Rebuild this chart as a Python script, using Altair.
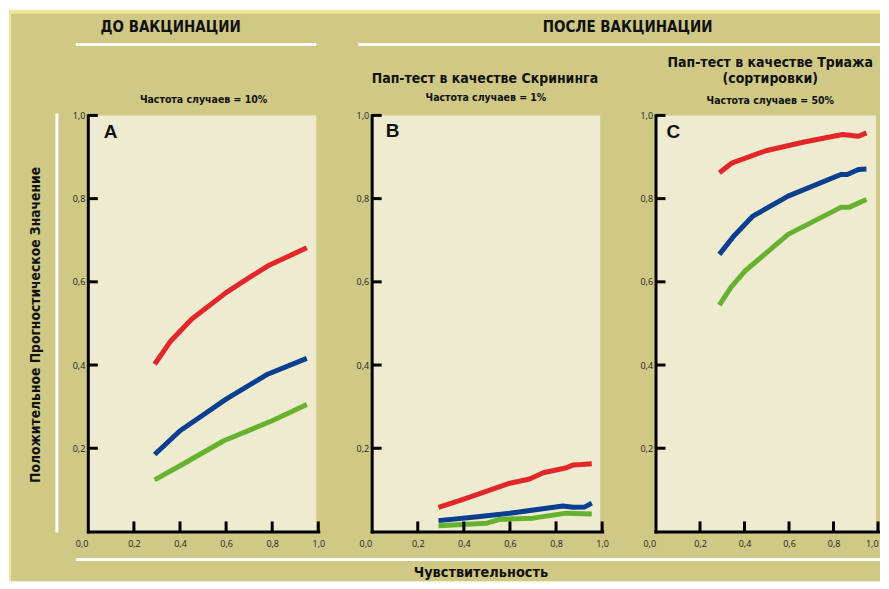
import altair as alt
import pandas as pd

# ---------------- data ----------------
X_TICKS = [0.0, 0.2, 0.4, 0.6, 0.8, 1.0]
Y_TICKS = [0.2, 0.4, 0.6, 0.8, 1.0]
TICK_MARKS_X = [0.2, 0.4, 0.6, 0.8, 1.0]
TICK_MARKS_Y = [0.2, 0.4, 0.6, 0.8, 1.0]

A_RED_X = [0.29, 0.36, 0.45, 0.60, 0.70, 0.78, 0.95]
A_RED_Y = [0.402, 0.458, 0.510, 0.574, 0.610, 0.638, 0.682]
A_BLUE_X = [0.29, 0.40, 0.50, 0.60, 0.78, 0.95]
A_BLUE_Y = [0.185, 0.242, 0.280, 0.318, 0.378, 0.416]
A_GREEN_X = [0.29, 0.40, 0.59, 0.80, 0.95]
A_GREEN_Y = [0.124, 0.158, 0.218, 0.266, 0.305]

B_RED_X = [0.29, 0.40, 0.50, 0.60, 0.685, 0.745, 0.845, 0.875, 0.91, 0.955]
B_RED_Y = [0.058, 0.078, 0.097, 0.116, 0.126, 0.141, 0.153, 0.160, 0.161, 0.163]
B_BLUE_X = [0.29, 0.45, 0.60, 0.83, 0.875, 0.925, 0.955]
B_BLUE_Y = [0.026, 0.035, 0.044, 0.061, 0.058, 0.059, 0.068]
B_GREEN_X = [0.29, 0.50, 0.555, 0.70, 0.845, 0.955]
B_GREEN_Y = [0.014, 0.020, 0.029, 0.032, 0.044, 0.042]

C_RED_X = [0.287, 0.345, 0.496, 0.668, 0.841, 0.912, 0.948]
C_RED_Y = [0.862, 0.886, 0.915, 0.936, 0.954, 0.950, 0.958]
C_BLUE_X = [0.287, 0.352, 0.438, 0.596, 0.833, 0.862, 0.912, 0.948]
C_BLUE_Y = [0.666, 0.710, 0.758, 0.806, 0.858, 0.858, 0.870, 0.871]
C_GREEN_X = [0.287, 0.338, 0.402, 0.596, 0.833, 0.869, 0.948]
C_GREEN_Y = [0.544, 0.586, 0.626, 0.714, 0.779, 0.779, 0.798]

HEADER_BEFORE = "ДО ВАКЦИНАЦИИ"
HEADER_AFTER = "ПОСЛЕ ВАКЦИНАЦИИ"
X_TITLE = "Чувствительность"
Y_TITLE = "Положительное Прогностическое Значение"
A_SUB = "Частота случаев = 10%"
B_TITLE = "Пап-тест в качестве Скрининга"
B_SUB = "Частота случаев = 1%"
C_TITLE_1 = "Пап-тест в качестве Триажа"
C_TITLE_2 = "(сортировки)"
C_SUB = "Частота случаев = 50%"

# ---------------- style ----------------
RED, BLUE, GREEN = "#E3262A", "#0A3E8E", "#66B22E"
LIGHT, KHAKI, CREAM = "#EDE79B", "#D0C885", "#EEEBD0"
COND = "DejaVu Sans Condensed, Roboto, sans-serif"
H = 417
WA, WB, WC = 231, 231, 223
ONE = pd.DataFrame({"k": [0]})


def curves(rx, ry, bx, by, gx, gy):
    rows = []
    for name, xs, ys in (("r", rx, ry), ("b", bx, by), ("g", gx, gy)):
        for x, y in zip(xs, ys):
            rows.append({"curve": name, "sens": x, "ppv": y})
    return pd.DataFrame(rows)


def txt(s, x, y, size, font=COND, weight="bold", align="center", angle=0, baseline="middle"):
    return alt.Chart(ONE).mark_text(
        text=s, fontSize=size, font=font, fontWeight=weight, align=align,
        baseline=baseline, angle=angle, color="#111111"
    ).encode(x=alt.value(x), y=alt.value(y))


def box(x1, x2, y1, y2, color):
    return alt.Chart(ONE).mark_rect(color=color).encode(
        x=alt.value(x1), x2=alt.value(x2), y=alt.value(y1), y2=alt.value(y2)
    )


LABEL_EXPR = "replace(format(datum.value, '.1f'), '.', ',')"


def panel(df, width, letter, letter_x, letter_y, decor, last_right=False):
    align_x = {"condition": {"test": "datum.value == 0", "value": "right"}, "value": "center"}
    if last_right:
        align_x = {"condition": [{"test": "datum.value == 0", "value": "right"},
                                 {"test": "datum.value == 1", "value": "right"}], "value": "center"}
    xaxis = alt.Axis(values=X_TICKS, labelExpr=LABEL_EXPR, domainColor="black", domainWidth=3,
                     domainCap="square", ticks=False, tickSize=0, grid=False, title=None,
                     labelFont="Open Sans", labelFontSize=9, labelColor="#222222",
                     labelPadding=8, labelAlign=align_x, labelOverlap=False, labelFlush=False,
                     zindex=2)
    yaxis = alt.Axis(values=Y_TICKS, labelExpr=LABEL_EXPR, domainColor="black", domainWidth=3,
                     domainCap="square", ticks=False, tickSize=0, grid=False, title=None,
                     labelFont="Open Sans", labelFontSize=9, labelColor="#222222",
                     labelPadding=3, labelOverlap=False, labelFlush=False, zindex=2)
    cream = box(0, width - 2, 0, H, CREAM)
    lines = alt.Chart(df).mark_line(strokeWidth=5, strokeJoin="round").encode(
        x=alt.X("sens:Q", scale=alt.Scale(domain=[0, 1], nice=False), axis=xaxis),
        y=alt.Y("ppv:Q", scale=alt.Scale(domain=[0, 1], nice=False), axis=yaxis),
        color=alt.Color("curve:N", scale=alt.Scale(domain=["r", "b", "g"], range=[RED, BLUE, GREEN]),
                        legend=None),
        detail="curve:N",
    )
    yt = alt.Chart(pd.DataFrame({"ppv": TICK_MARKS_Y})).mark_rule(color="black", strokeWidth=3).encode(
        y=alt.Y("ppv:Q", title=None), x=alt.value(0), x2=alt.value(10)
    )
    xt = alt.Chart(pd.DataFrame({"sens": TICK_MARKS_X})).mark_rule(color="black", strokeWidth=3).encode(
        x=alt.X("sens:Q", title=None), y=alt.value(H), y2=alt.value(H - 10)
    )
    let = txt(letter, letter_x, letter_y, 19, font="Liberation Sans", align="left")
    return alt.layer(*decor, cream, lines, yt, xt, let).properties(width=width, height=H)


# decorations placed relative to panel A's plot origin (reference px 87,114)
decor_a = [
    box(-79, 794, -106, 467, LIGHT),
    box(-77, 794, -102, 467, KHAKI),
    txt(HEADER_BEFORE, 83, -89, 15),
    box(-12, 229, -72.5, -69.5, "white"),
    txt(HEADER_AFTER, 541, -89, 15),
    box(271, 794, -72.5, -69.5, "white"),
    box(-12, 794, 443.5, 446.5, "white"),
    txt(X_TITLE, 394, 463, 14.4, baseline="alphabetic"),
    box(-32.5, -29.5, -2, 418, "white"),
    txt(Y_TITLE, -52, 210, 13.8, angle=270),
    txt(A_SUB, 116, -15, 10.5),
]
decor_b = [
    txt(B_TITLE, 113.5, -36, 14),
    txt(B_SUB, 114.5, -17, 10.5),
]
decor_c = [
    txt(C_TITLE_1, 115, -53, 14),
    txt(C_TITLE_2, 115, -36, 14),
    txt(C_SUB, 115, -14, 10.5),
]

pa = panel(curves(A_RED_X, A_RED_Y, A_BLUE_X, A_BLUE_Y, A_GREEN_X, A_GREEN_Y), WA, "A", 16, 17, decor_a)
pb = panel(curves(B_RED_X, B_RED_Y, B_BLUE_X, B_BLUE_Y, B_GREEN_X, B_GREEN_Y), WB, "B", 14, 15.5, decor_b)
pc = panel(curves(C_RED_X, C_RED_Y, C_BLUE_X, C_BLUE_Y, C_GREEN_X, C_GREEN_Y), WC, "C", 11, 17, decor_c,
           last_right=True)

chart = alt.hconcat(pa, pb, pc, spacing=53.5, bounds="flush").properties(
    padding=0
).configure_view(stroke="transparent").configure_axis(grid=False)

chart.save("out.html", embed_options={"renderer": "svg", "actions": False})
